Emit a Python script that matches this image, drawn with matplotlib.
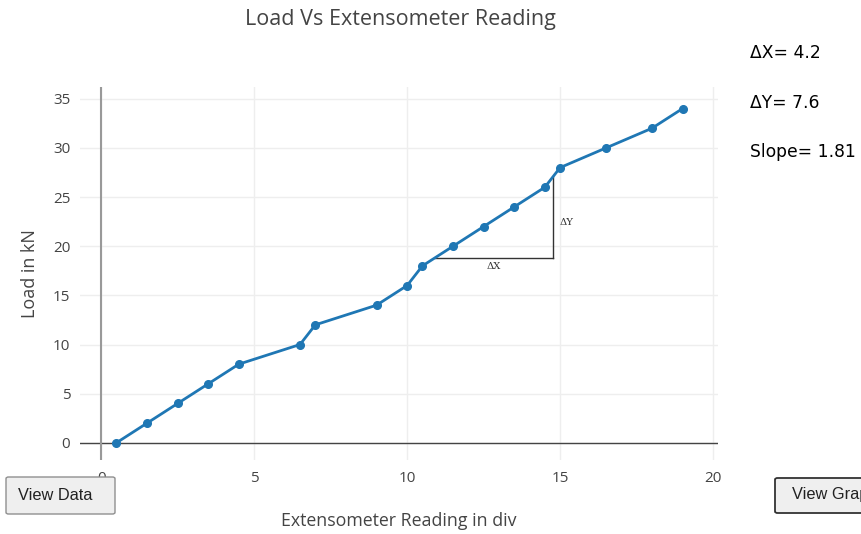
import matplotlib.pyplot as plt
from matplotlib.patches import FancyBboxPatch

plt.rcParams['font.family'] = ['Open Sans', 'DejaVu Sans']

# extensometer readings (div) and applied load (kN)
reading = [0.5, 1.5, 2.5, 3.5, 4.5, 6.5, 7, 9, 10, 10.5, 11.5, 12.5, 13.5, 14.5, 15, 16.5, 18, 19]
load = [0, 2, 4, 6, 8, 10, 12, 14, 16, 18, 20, 22, 24, 26, 28, 30, 32, 34]

# slope triangle corners
tri_x = [10.9, 14.77, 14.77]
tri_y = [18.8, 18.8, 27.06]
dx_val, dy_val, slope_val = 4.2, 7.6, 1.81

txt = "#444444"
fig = plt.figure(figsize=(8.62, 5.34), dpi=100)
ax = fig.add_axes([80 / 862, 1 - 460 / 534, 638 / 862, 373 / 534])

ax.plot(reading, load, color="#1f77b4", lw=2, marker="o", ms=5.5, zorder=3)

# slope triangle
ax.plot(tri_x[:2], tri_y[:2], color="#333333", lw=1, zorder=2)
ax.plot(tri_x[1:], tri_y[1:], color="#333333", lw=1, zorder=2)
ax.text((tri_x[0] + tri_x[1]) / 2, tri_y[0] - 0.4, "ΔX", family="DejaVu Serif",
        fontsize=7.2, ha="center", va="top", color="#333333")
ax.text(tri_x[1] + 0.2, (tri_y[1] + tri_y[2]) / 2 - 0.5, "ΔY", family="DejaVu Serif",
        fontsize=7.2, ha="left", va="center", color="#333333")

ax.set_xlim(-0.69, 20.16)
ax.set_ylim(-1.75, 36.2)
ax.set_xticks([0, 5, 10, 15, 20])
ax.set_yticks([0, 5, 10, 15, 20, 25, 30, 35])
ax.grid(color="#eeeeee", lw=1)
ax.set_axisbelow(True)
ax.axhline(0, color="#444444", lw=1, zorder=1)
ax.axvline(0, color="#999999", lw=1.5, zorder=1)
for s in ax.spines.values():
    s.set_visible(False)
ax.tick_params(length=0, colors=txt, labelsize=11, pad=7)
ax.tick_params(axis="x", pad=8)

ax.set_xlabel("Extensometer Reading in div", fontsize=12.8, color=txt, labelpad=19)
ax.set_ylabel("Load in kN", fontsize=13, color=txt, labelpad=10)
fig.text(400 / 862, 1 - 20 / 534, "Load Vs Extensometer Reading", fontsize=15.5,
         color=txt, ha="center", va="center")

# readout on the right
fig.text(750 / 862, 1 - 53 / 534, f"ΔX= {dx_val}", fontsize=12.3, va="center",
         family="DejaVu Sans")
fig.text(750 / 862, 1 - 103 / 534, f"ΔY= {dy_val}", fontsize=12.3, va="center",
         family="DejaVu Sans")
fig.text(750 / 862, 1 - 152 / 534, f"Slope= {slope_val}", fontsize=12.3, va="center",
         family="DejaVu Sans")

# buttons
b1 = FancyBboxPatch((6 / 862, 1 - 514 / 534), 109 / 862, 37 / 534,
                    boxstyle="round,pad=0,rounding_size=0.003", transform=fig.transFigure,
                    fc="#efefef", ec="#8f8f8f", lw=1, zorder=10)
fig.add_artist(b1)
fig.text(18 / 862, 1 - 495 / 534, "View Data", fontsize=11.8, ha="left", va="center",
         color="#222222", family="Liberation Sans", zorder=11)
b2 = FancyBboxPatch((775 / 862, 1 - 513 / 534), 100 / 862, 35 / 534,
                    boxstyle="round,pad=0,rounding_size=0.003", transform=fig.transFigure,
                    fc="#efefef", ec="#333333", lw=1.3, zorder=10, clip_on=False)
fig.add_artist(b2)
fig.text(792 / 862, 1 - 495 / 534, "View Graph", fontsize=11.8, ha="left", va="center",
         color="#222222", family="Liberation Sans", zorder=11)

fig.savefig("out.png", dpi=100)
